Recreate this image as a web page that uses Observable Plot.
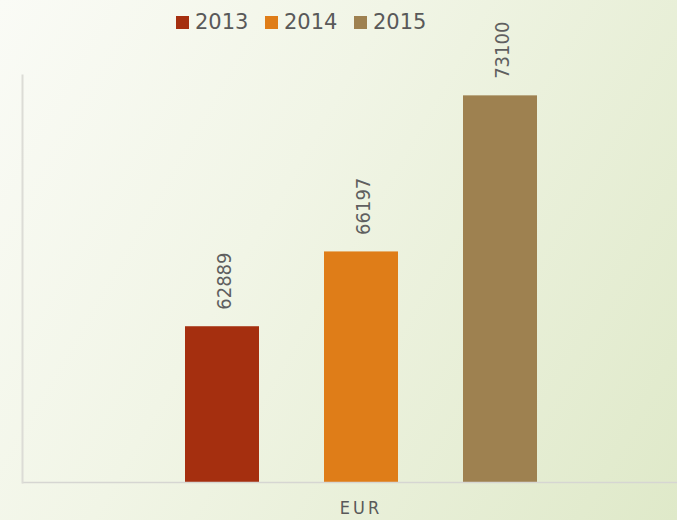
<!DOCTYPE html>
<html>
<head>
<meta charset="utf-8">
<script src="https://cdn.jsdelivr.net/npm/d3@7"></script>
<script src="https://cdn.jsdelivr.net/npm/@observablehq/plot@0.6"></script>
<style>
  html, body { margin: 0; padding: 0; width: 677px; height: 520px; overflow: hidden; }
  body {
    background: linear-gradient(120deg, #fafbf6 0%, #f1f5e6 40%, #dfe9c9 100%);
    font-family: "DejaVu Sans", sans-serif;
    color: #595959;
  }
  #legend { position: relative; height: 45px; width: 677px; }
  .item { position: absolute; top: 8px; height: 28px; display: flex; align-items: center; font-size: 21px; color: #595959; }
  .sw { width: 13px; height: 13px; margin-right: 6px; }
  #chart { width: 699px; }
  #chart svg { display: block; background: transparent; max-width: none !important; overflow: visible; }
  g[aria-label="fx-axis tick label"] text { letter-spacing: 3px; font-family: "DejaVu Sans Condensed", "DejaVu Sans", sans-serif; }
</style>
</head>
<body>
<div id="legend"></div>
<div id="chart"></div>
<script>
const currency = ["EUR", "EUR", "EUR"];
const years = ["2013", "2014", "2015"];
const values = [62889, 66197, 73100];
const colors = ["#a52f0f", "#df7d18", "#9e8150"];

const data = years.map((y, i) => ({currency: currency[i], year: y, value: values[i]}));

// legend
const legend = document.getElementById("legend");
const legendX = [176, 265, 354];
years.forEach((y, i) => {
  const d = document.createElement("div");
  d.className = "item";
  d.style.left = legendX[i] + "px";
  d.innerHTML = `<span class="sw" style="background:${colors[i]}"></span><span>${y}</span>`;
  legend.appendChild(d);
});

const plot = Plot.plot({
  width: 699,
  height: 475,
  marginLeft: 22,
  marginRight: 0,
  marginTop: 30,
  marginBottom: 38,
  style: {fontFamily: "DejaVu Sans, sans-serif", fontSize: "18px", color: "#595959", background: "transparent", overflow: "visible"},
  fx: {domain: ["EUR"], padding: 0, label: null, axis: "bottom", tickSize: 0, tickPadding: 19},
  x: {domain: years, paddingInner: 0.4695, paddingOuter: 1.161, axis: null},
  y: {domain: [56000, 74000], axis: null},
  color: {domain: years, range: colors},
  marks: [
    Plot.barY(data, {fx: "currency", x: "year", y1: 56000, y2: "value", fill: "year"}),
    Plot.ruleY([56000], {stroke: "#d6d6d2", strokeWidth: 1.5}),
    Plot.frame({anchor: "left", stroke: "#dcdcd6", strokeWidth: 2}),
    Plot.text(data, {fx: "currency", x: "year", y: "value", text: d => String(d.value),
      rotate: -90, textAnchor: "start", lineAnchor: "middle", dy: -17, dx: 2,
      fontSize: 20, fontFamily: "DejaVu Sans Condensed, DejaVu Sans, sans-serif", fill: "#5f5f5f"})
  ]
});
document.getElementById("chart").appendChild(plot);
</script>
</body>
</html>
